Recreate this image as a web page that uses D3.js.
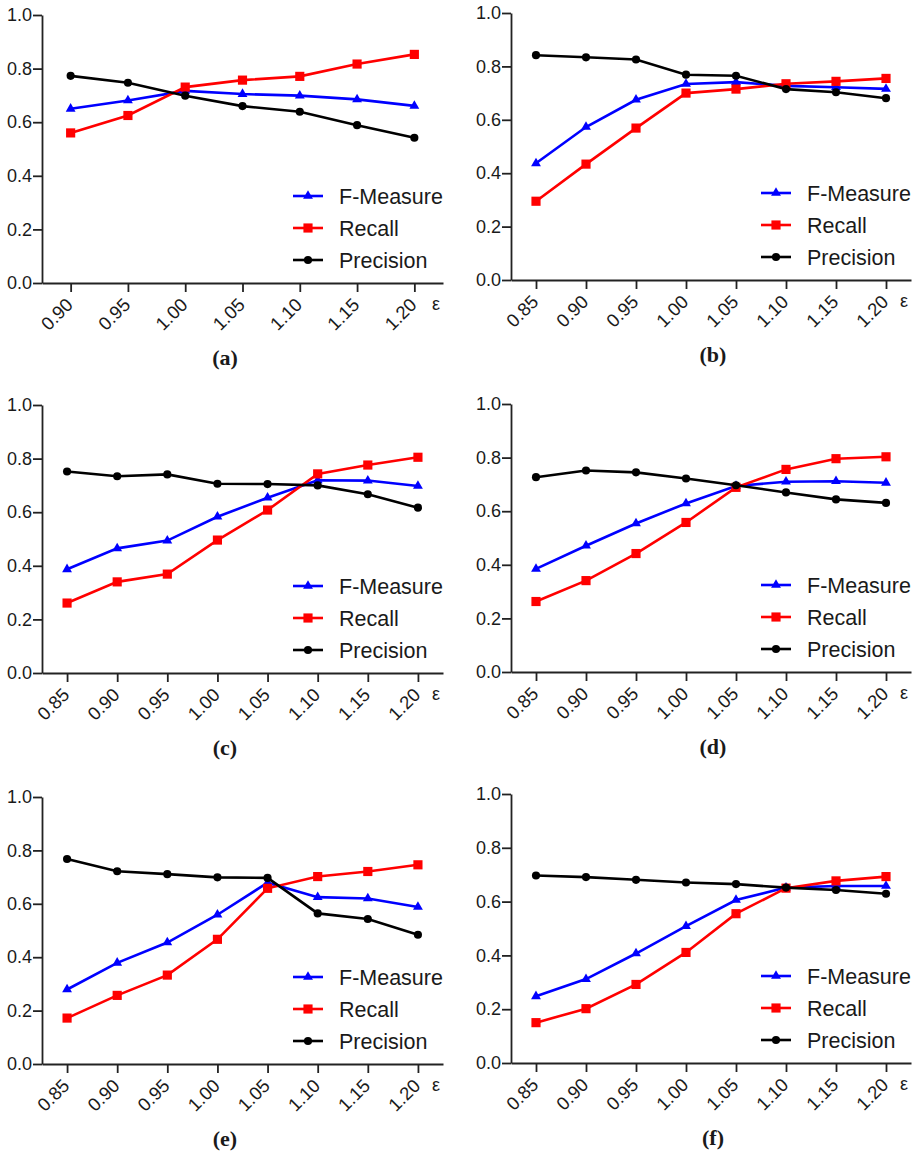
<!DOCTYPE html>
<html>
<head>
<meta charset="utf-8">
<script src="https://cdn.jsdelivr.net/npm/d3@7"></script>
<style>
  body { margin: 0; background: #fff; }
  text { font-family: "Liberation Sans", Arial, sans-serif; fill: #1a1a1a; }
</style>
</head>
<body>
<script>
// x categories (epsilon)
var epsA = ["0.90", "0.95", "1.00", "1.05", "1.10", "1.15", "1.20"];
var eps = ["0.85", "0.90", "0.95", "1.00", "1.05", "1.10", "1.15", "1.20"];
var yTicks = [0, 0.2, 0.4, 0.6, 0.8, 1.0];
var seriesNames = ["F-Measure", "Recall", "Precision"];
var panelLabels = ["(a)", "(b)", "(c)", "(d)", "(e)", "(f)"];

// values
var fA = [0.650, 0.681, 0.717, 0.705, 0.699, 0.685, 0.661];
var rA = [0.560, 0.625, 0.731, 0.757, 0.771, 0.817, 0.853];
var pA = [0.773, 0.747, 0.699, 0.660, 0.639, 0.589, 0.542];

var fB = [0.437, 0.573, 0.675, 0.734, 0.741, 0.727, 0.722, 0.716];
var rB = [0.295, 0.434, 0.569, 0.700, 0.715, 0.735, 0.744, 0.755];
var pB = [0.842, 0.834, 0.826, 0.769, 0.765, 0.715, 0.703, 0.681];

var fC = [0.387, 0.465, 0.494, 0.583, 0.654, 0.719, 0.718, 0.698];
var rC = [0.261, 0.340, 0.369, 0.496, 0.608, 0.743, 0.776, 0.805];
var pC = [0.752, 0.734, 0.741, 0.706, 0.705, 0.700, 0.667, 0.617];

var fD = [0.385, 0.471, 0.554, 0.629, 0.694, 0.710, 0.712, 0.706];
var rD = [0.263, 0.341, 0.442, 0.558, 0.689, 0.756, 0.796, 0.803];
var pD = [0.727, 0.752, 0.745, 0.722, 0.697, 0.670, 0.644, 0.631];

var fE = [0.279, 0.379, 0.455, 0.559, 0.679, 0.625, 0.620, 0.588];
var rE = [0.172, 0.257, 0.333, 0.467, 0.658, 0.702, 0.721, 0.746];
var pE = [0.768, 0.722, 0.711, 0.699, 0.697, 0.564, 0.543, 0.484];

var fF = [0.248, 0.312, 0.407, 0.509, 0.606, 0.652, 0.658, 0.658];
var rF = [0.150, 0.202, 0.292, 0.411, 0.555, 0.650, 0.677, 0.693];
var pF = [0.697, 0.691, 0.681, 0.671, 0.665, 0.652, 0.643, 0.629];

var panels = [
  {cats: epsA, vals: [fA, rA, pA]},
  {cats: eps, vals: [fB, rB, pB]},
  {cats: eps, vals: [fC, rC, pC]},
  {cats: eps, vals: [fD, rD, pD]},
  {cats: eps, vals: [fE, rE, pE]},
  {cats: eps, vals: [fF, rF, pF]}
];

// where each panel sits: left, right, y of 1.0, y of 0.0, label x
var boxes = [
  {x0: 42, x1: 443, yt: 15, yb: 283, lx: 225},
  {x0: 511, x1: 911, yt: 13, yb: 280, lx: 713},
  {x0: 42, x1: 443, yt: 405, yb: 673, lx: 225},
  {x0: 511, x1: 911, yt: 404, yb: 672, lx: 713},
  {x0: 42, x1: 443, yt: 797, yb: 1064, lx: 225},
  {x0: 511, x1: 911, yt: 794, yb: 1063, lx: 713}
];

var colors = ["#0000ff", "#ff0000", "#000000"];
var shapes = [d3.symbolTriangle, d3.symbolSquare, d3.symbolCircle];
var sizes = [42, 84, 52];

var svg = d3.select("body").append("svg")
    .attr("width", 921)
    .attr("height", 1154);

panels.forEach(function(p, i) {
  var b = boxes[i];
  var g = svg.append("g");

  var x = d3.scalePoint().domain(p.cats).range([b.x0, b.x1]).padding(0.5);
  var y = d3.scaleLinear().domain([0, 1]).range([b.yb, b.yt]);

  // y axis
  var ya = g.append("g")
      .attr("transform", "translate(" + b.x0 + ",0)")
      .call(d3.axisLeft(y).tickValues(yTicks).tickFormat(d3.format(".1f")).tickSize(9).tickPadding(1).tickSizeOuter(0));
  ya.selectAll("text").style("font-size", "18px").attr("fill", "#1a1a1a");

  // x axis
  var xa = g.append("g")
      .attr("transform", "translate(0," + b.yb + ")")
      .call(d3.axisBottom(x).tickSize(9).tickSizeOuter(0));
  xa.selectAll("text")
      .style("font-size", "18.5px")
      .attr("fill", "#1a1a1a")
      .attr("text-anchor", "end")
      .attr("y", 0).attr("dy", 0)
      .attr("transform", "translate(3,23) rotate(-45)");

  g.selectAll(".domain, .tick line")
      .attr("stroke", "#222")
      .attr("stroke-width", 1.8);

  g.append("text")
      .attr("x", b.x1 - 7)
      .attr("y", b.yb + 27)
      .attr("text-anchor", "middle")
      .style("font-size", "18px")
      .text("ε");

  var line = d3.line()
      .x(function(d, j) { return x(p.cats[j]); })
      .y(function(d) { return y(d); });

  p.vals.forEach(function(vals, s) {
    g.append("path")
        .datum(vals)
        .attr("fill", "none")
        .attr("stroke", colors[s])
        .attr("stroke-width", 2.6)
        .attr("d", line);

    g.selectAll(".m" + s)
      .data(vals)
      .enter().append("path")
        .attr("class", "m" + s)
        .attr("d", d3.symbol().type(shapes[s]).size(sizes[s]))
        .attr("transform", function(d, j) { return "translate(" + x(p.cats[j]) + "," + y(d) + ")"; })
        .attr("fill", colors[s]);
  });

  // legend
  var lg = g.append("g");
  seriesNames.forEach(function(name, s) {
    var ly = b.yb - 87 + s * 32;
    lg.append("line")
        .attr("x1", b.x1 - 150).attr("x2", b.x1 - 120)
        .attr("y1", ly).attr("y2", ly)
        .attr("stroke", colors[s]).attr("stroke-width", 2.6);
    lg.append("path")
        .attr("d", d3.symbol().type(shapes[s]).size(sizes[s]))
        .attr("transform", "translate(" + (b.x1 - 135) + "," + ly + ")")
        .attr("fill", colors[s]);
    lg.append("text")
        .attr("x", b.x1 - 104)
        .attr("y", ly)
        .attr("dy", "0.36em")
        .style("font-size", "21.5px")
        .text(name);
  });

  // panel label
  g.append("text")
      .attr("x", b.lx)
      .attr("y", b.yb + 74)
      .attr("dy", "0.35em")
      .attr("text-anchor", "middle")
      .style("font-family", "'Liberation Serif', 'Times New Roman', serif")
      .style("font-weight", "bold")
      .style("font-size", "22px")
      .text(panelLabels[i]);
});
</script>
</body>
</html>
